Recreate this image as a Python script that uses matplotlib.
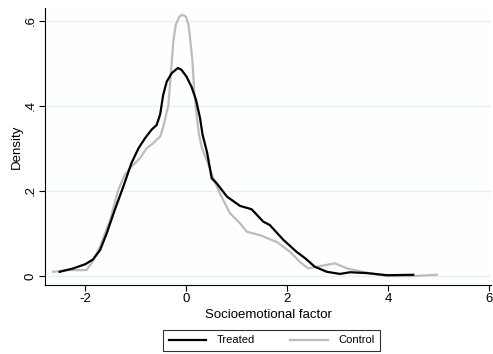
import numpy as np
import matplotlib
matplotlib.use("Agg")
from matplotlib import pyplot as plt

plt.rcParams['font.family'] = ['Liberation Sans', 'DejaVu Sans']

# kernel density
treated_x = [-2.5, -2.23, -1.99, -1.84, -1.70, -1.57, -1.41, -1.24, -1.08, -0.94,
             -0.81, -0.68, -0.58, -0.51, -0.45, -0.38, -0.28, -0.16, -0.09, 0.01,
             0.11, 0.2, 0.28, 0.33, 0.42, 0.51, 0.61, 0.81, 1.07, 1.3,
             1.53, 1.66, 1.93, 2.19, 2.36, 2.55, 2.79, 3.05, 3.25, 3.58,
             3.98, 4.5]
treated_y = [0.010, 0.018, 0.028, 0.039, 0.061, 0.100, 0.155, 0.210, 0.265, 0.300,
             0.324, 0.344, 0.355, 0.380, 0.426, 0.457, 0.477, 0.489, 0.485, 0.469,
             0.445, 0.414, 0.371, 0.332, 0.290, 0.230, 0.218, 0.187, 0.165, 0.157,
             0.128, 0.120, 0.085, 0.057, 0.042, 0.022, 0.010, 0.005, 0.009, 0.007,
             0.002, 0.003]

control_x = [-2.63, -2.36, -1.97, -1.87, -1.70, -1.50, -1.34, -1.21, -1.08, -0.91,
             -0.78, -0.65, -0.51, -0.45, -0.39, -0.35, -0.32, -0.28, -0.25, -0.2,
             -0.13, -0.07, 0.0, 0.05, 0.09, 0.13, 0.16, 0.21, 0.26, 0.32,
             0.42, 0.54, 0.67, 0.87, 1.07, 1.21, 1.47, 1.8, 2.06, 2.26,
             2.42, 2.6, 2.95, 3.19, 3.58, 3.98, 4.5, 4.97]
control_y = [0.010, 0.014, 0.014, 0.030, 0.069, 0.132, 0.202, 0.238, 0.257, 0.277,
             0.300, 0.312, 0.328, 0.350, 0.380, 0.400, 0.442, 0.504, 0.551, 0.591,
             0.610, 0.614, 0.610, 0.591, 0.551, 0.504, 0.442, 0.379, 0.332, 0.300,
             0.270, 0.230, 0.195, 0.148, 0.124, 0.104, 0.096, 0.080, 0.057, 0.033,
             0.018, 0.022, 0.030, 0.018, 0.008, 0.000, 0.000, 0.003]

xticks = [-2, 0, 2, 4, 6]
yticks = [0, 0.2, 0.4, 0.6]
ytick_labels = ['0', '.2', '.4', '.6']

fig = plt.figure(figsize=(4.93, 3.54), dpi=100)
ax = fig.add_axes([45/493, 1 - 285/354, (491 - 45)/493, (285 - 8)/354])
ax.set_facecolor('#fdfefe')

ax.plot(treated_x, treated_y, color='black', lw=1.6, label='Treated', zorder=3)
ax.plot(control_x, control_y, color='#bcbcbc', lw=1.6, label='Control', zorder=2)

ax.set_xlim(-2.79, 6.04)
ax.set_ylim(-0.021, 0.63)
ax.set_xticks(xticks)
ax.set_xticklabels(['-2', '0', '2', '4', '6'])
ax.set_yticks(yticks)
ax.set_yticklabels(ytick_labels, rotation=90, va='center')
ax.tick_params(labelsize=9.5, length=4, width=0.8, pad=2)
ax.grid(axis='y', color='#e6efef', lw=0.8)
ax.set_axisbelow(True)
for s in ['top', 'right']:
    ax.spines[s].set_visible(False)
ax.spines['left'].set_linewidth(0.8)
ax.spines['bottom'].set_linewidth(0.8)

ax.set_xlabel('Socioemotional factor', fontsize=9.5, labelpad=3)
ax.set_ylabel('Density', fontsize=9.5, labelpad=1)

leg = fig.legend(loc='lower left', bbox_to_anchor=(163/493, 3/354, 217/493, 23/354),
                 mode='expand', ncol=2, fontsize=8, frameon=True, fancybox=False,
                 edgecolor='black', handlelength=3.4, handletextpad=0.9,
                 borderpad=0.5, borderaxespad=0)
leg.get_frame().set_linewidth(0.8)

fig.savefig('out.png', dpi=100)
